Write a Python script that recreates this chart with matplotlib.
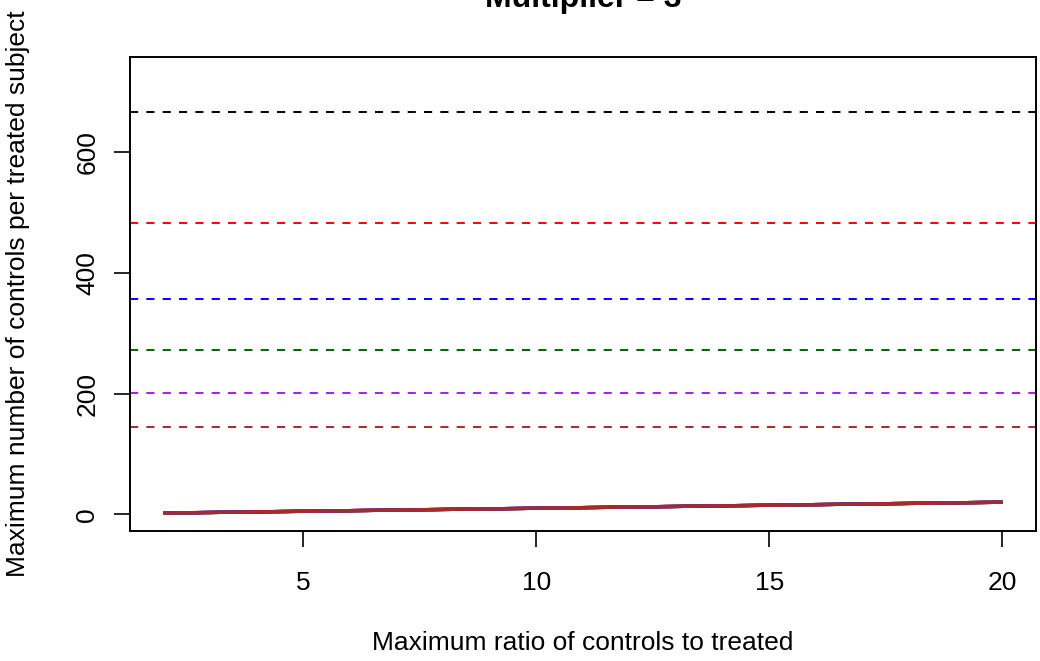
import matplotlib
matplotlib.use("Agg")
import matplotlib.pyplot as plt
import numpy as np

plt.rcParams['font.family'] = ['Liberation Sans', 'DejaVu Sans']

title = "Multiplier = 3"
xlabel = "Maximum ratio of controls to treated"
ylabel = "Maximum number of controls per treated subject"

ratios = [2, 3, 4, 5, 6, 7, 8, 9, 10, 11, 12, 13, 14, 15, 16, 17, 18, 19, 20]
max_controls = [2, 3, 4, 5, 6, 7, 8, 9, 10, 11, 12, 13, 14, 15, 16, 17, 18, 19, 20]

limit_values = [666.8, 482, 356.6, 272, 200.4, 145]
colors = ['black', 'red', 'blue', 'darkgreen', '#A020F0', '#A52A2A']

xticks = [5, 10, 15, 20]
yticks = [0, 200, 400, 600]

W, H = 1040, 661
fig = plt.figure(figsize=(W / 100, H / 100), dpi=100)
ax = fig.add_axes([130 / W, 1 - 531 / H, 906 / W, 474 / H])

for v, c in zip(limit_values, colors):
    ax.axhline(v, color=c, lw=1.4, linestyle=(0, (4.2, 4.2)))

for c in colors:
    ax.plot(ratios, max_controls, color=c, lw=2.4, solid_capstyle='butt')

ax.set_xlim(1.28, 20.72)
ax.set_ylim(-27.7, 757.4)
ax.set_xticks(xticks)
ax.set_yticks(yticks)
ax.set_yticklabels([str(t) for t in yticks], rotation=90, va='center')
ax.tick_params(axis='both', length=11.5, width=1.2, labelsize=19)
ax.tick_params(axis='x', pad=17)
ax.tick_params(axis='y', pad=10.5)
for s in ax.spines.values():
    s.set_linewidth(1.4)

ax.set_xlabel(xlabel, fontsize=19, va='center')
ax.xaxis.set_label_coords(0.5, (531 - 643) / 474)
ax.set_ylabel(ylabel, fontsize=19, va='center')
ax.yaxis.set_label_coords((18 - 130) / 906, 0.5)
fig.text(583 / W, 1.0 - 7 / H, title, fontsize=23, fontweight='bold', ha='center', va='baseline')

fig.savefig("out.png", dpi=100)
